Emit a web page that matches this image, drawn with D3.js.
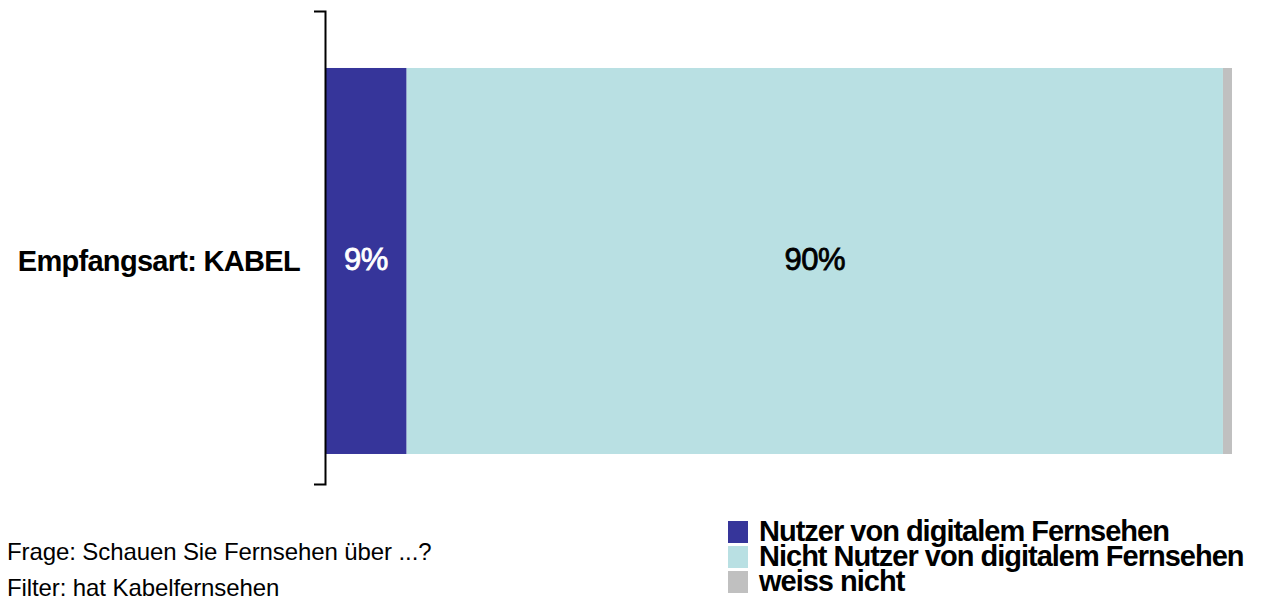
<!DOCTYPE html>
<html>
<head>
<meta charset="utf-8">
<script src="https://cdn.jsdelivr.net/npm/d3@7/dist/d3.min.js"></script>
<style>
  html, body { margin: 0; padding: 0; background: #fff; }
  svg { display: block; font-family: "Liberation Sans", Arial, sans-serif; }
</style>
</head>
<body>
<svg id="chart" width="1266" height="612"></svg>
<script>
// Survey result: digital TV usage among cable households
const categories = ["Empfangsart: KABEL"];
const seriesNames = ["Nutzer von digitalem Fernsehen", "Nicht Nutzer von digitalem Fernsehen", "weiss nicht"];
const seriesValues = [[9], [90], [1]];
const seriesLabels = ["9%", "90%", ""];
const seriesColors = ["#36359a", "#b9e0e3", "#c0c0c0"];
const notes = ["Frage: Schauen Sie Fernsehen über ...?", "Filter: hat Kabelfernsehen"];

const svg = d3.select("#chart");
const plot = { left: 325, right: 1232, top: 11, bottom: 484 };

const x = d3.scaleLinear().domain([0, 100]).range([plot.left, plot.right]);
const y = d3.scaleBand().domain(categories).range([plot.top, plot.bottom])
  .paddingInner(0).paddingOuter(0.1127).align(0.655);

// stack the series per category
const rows = categories.map((c, i) => {
  const o = { cat: c };
  seriesNames.forEach((s, j) => o[s] = seriesValues[j][i]);
  return o;
});
const stacked = d3.stack().keys(seriesNames)(rows);

const layer = svg.selectAll("g.layer").data(stacked).join("g")
  .attr("class", "layer")
  .attr("fill", (d, i) => seriesColors[i]);

layer.selectAll("rect").data(d => d).join("rect")
  .attr("x", d => x(d[0]))
  .attr("width", d => x(d[1]) - x(d[0]))
  .attr("y", d => y(d.data.cat))
  .attr("height", y.bandwidth());

// value labels
stacked.forEach((s, i) => {
  if (!seriesLabels[i]) return;
  s.forEach(d => {
    svg.append("text")
      .attr("x", (x(d[0]) + x(d[1])) / 2)
      .attr("y", y(d.data.cat) + y.bandwidth() / 2 + 9)
      .attr("text-anchor", "middle")
      .attr("font-size", 31)
      .attr("letter-spacing", "-0.5px")
      .attr("stroke", i === 0 ? "#ffffff" : "#000000")
      .attr("stroke-width", 0.8)
      .attr("fill", i === 0 ? "#ffffff" : "#000000")
      .text(seriesLabels[i]);
  });
});

// category axis with outer ticks only
const yAxis = d3.axisLeft(y).tickSize(0).tickSizeOuter(11).tickFormat("");
const ax = svg.append("g").attr("transform", `translate(${plot.left},0)`).call(yAxis);
ax.select(".domain").attr("stroke", "#000").attr("stroke-width", 2);

// category labels
categories.forEach(c => {
  svg.append("text")
    .attr("x", 300)
    .attr("y", y(c) + y.bandwidth() / 2 + 10)
    .attr("text-anchor", "end")
    .attr("font-size", 29)
    .attr("font-weight", "bold")
    .attr("letter-spacing", "-0.7px")
    .text(c);
});

// legend
const legend = svg.append("g").attr("transform", "translate(728,521)");
seriesNames.forEach((s, i) => {
  const g = legend.append("g").attr("transform", `translate(0,${i * 25})`);
  g.append("rect").attr("width", 20).attr("height", 22).attr("fill", seriesColors[i]);
  g.append("text")
    .attr("x", 31).attr("y", 20)
    .attr("font-size", 29).attr("font-weight", "bold")
    .attr("letter-spacing", "-1px")
    .text(s);
});

// footnotes
notes.forEach((n, i) => {
  svg.append("text")
    .attr("x", 7).attr("y", 560 + i * 36)
    .attr("font-size", 24)
    .attr("letter-spacing", "-0.1px")
    .text(n);
});
</script>
</body>
</html>
